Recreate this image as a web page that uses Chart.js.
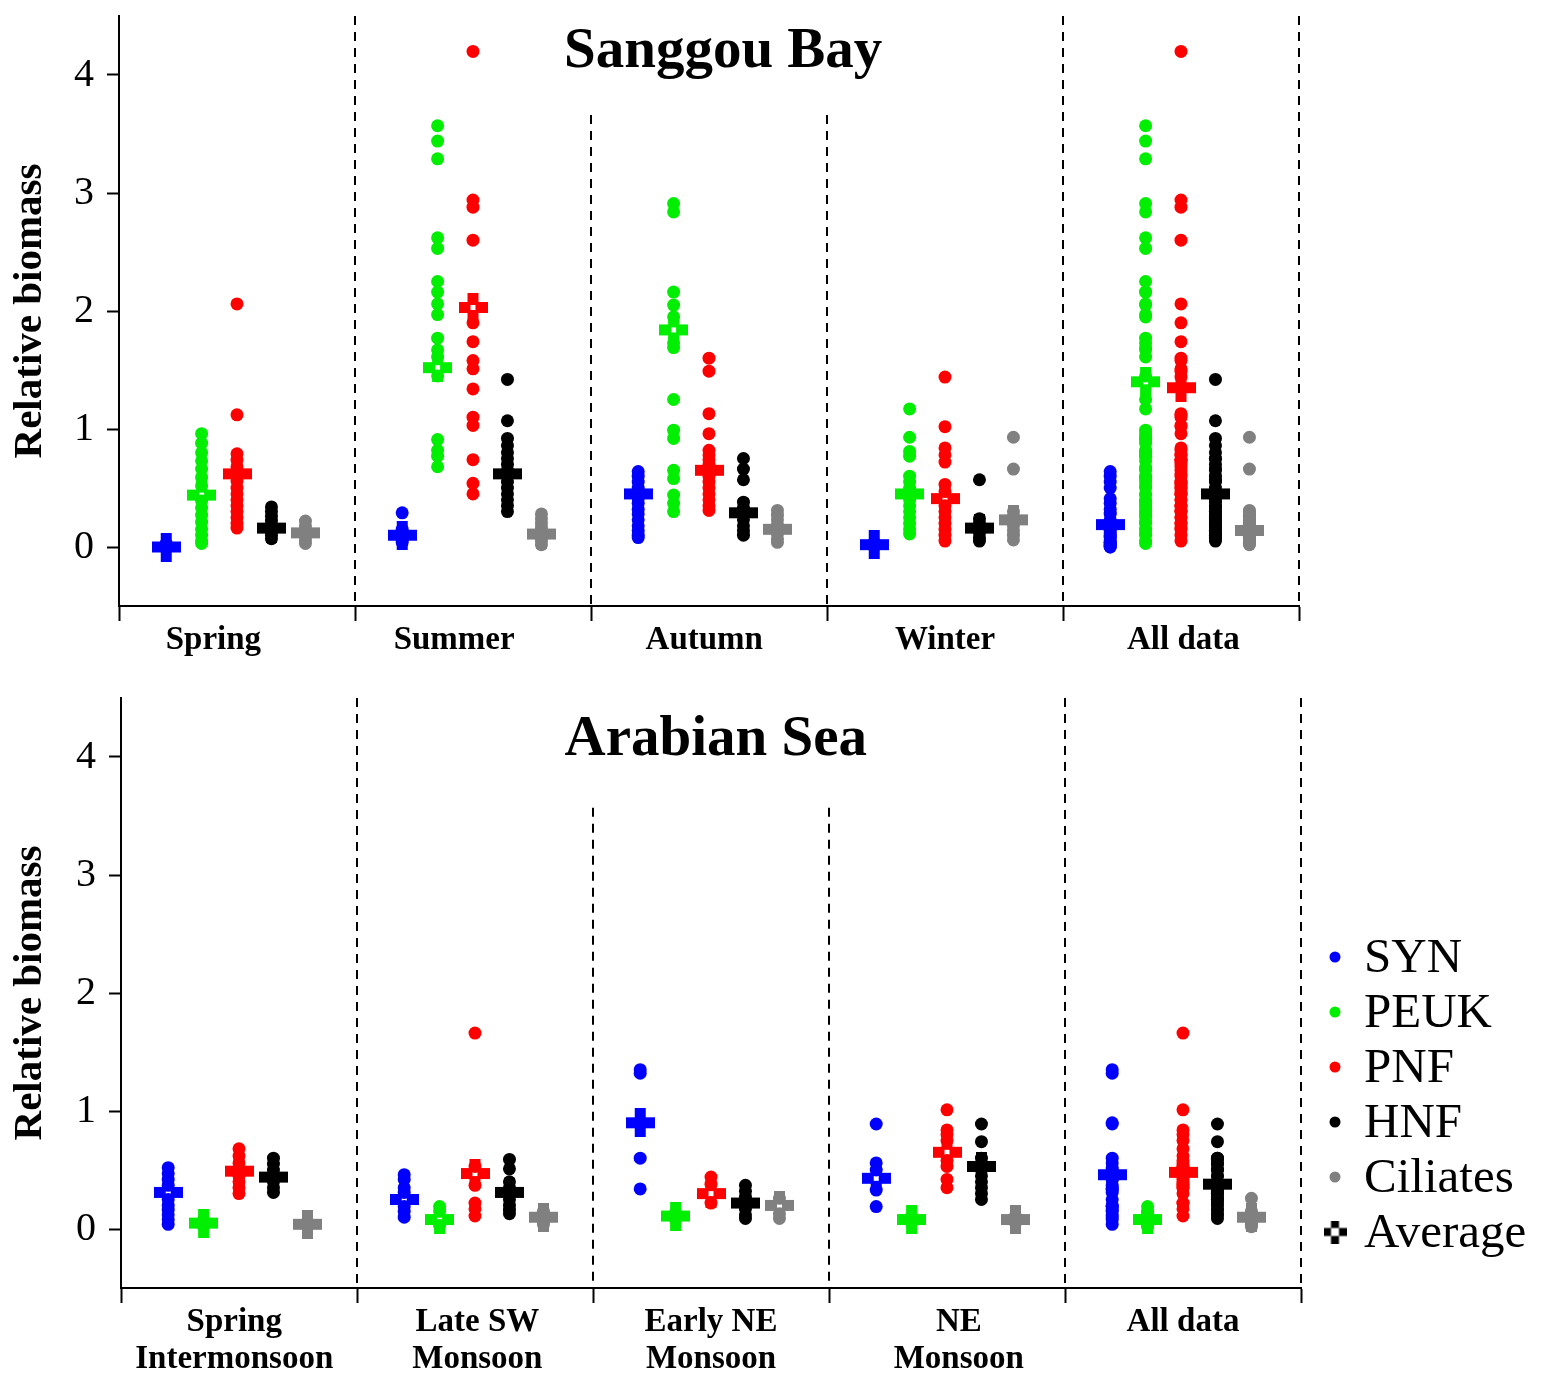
<!DOCTYPE html>
<html>
<head>
<meta charset="utf-8">
<script src="https://cdn.jsdelivr.net/npm/chart.js@4.4.1/dist/chart.umd.min.js"></script>
<style>
  html, body { margin: 0; padding: 0; background: #fff; }
  #wrap { position: relative; width: 1547px; height: 1379px; }
  .panel { position: absolute; left: 0; }
</style>
</head>
<body>
<div id="wrap">
  <div class="panel" style="top:0"><canvas id="sanggou" width="1547" height="670"></canvas></div>
  <div class="panel" style="top:670px"><canvas id="arabian" width="1547" height="709"></canvas></div>
</div>
<script>
// ---- data ----
const seriesNames = ['SYN', 'PEUK', 'PNF', 'HNF', 'Ciliates']
const seriesColors = ['#0000ff', '#00ee00', '#ff0000', '#000000', '#808080']
const yTicks = [0, 1, 2, 3, 4]

// Sanggou Bay, seasons: Spring, Summer, Autumn, Winter ("All data" = all seasons together)
const sgCategories = ['Spring', 'Summer', 'Autumn', 'Winter', 'All data']
const sgSYN = [
  [0, 0.01, 0.02, 0.03],
  [0.29, 0.15, 0.12, 0.09, 0.06, 0.04],
  [0.64, 0.6, 0.55, 0.5, 0.41, 0.37, 0.32, 0.28, 0.23, 0.18, 0.14, 0.1, 0.08],
  [0, 0.02, 0.04]
]
const sgPEUK = [
  [0.96, 0.88, 0.8, 0.73, 0.66, 0.59, 0.52, 0.39, 0.33, 0.27, 0.21, 0.15, 0.1, 0.05, 0.03],
  [3.57, 3.44, 3.29, 2.62, 2.53, 2.25, 2.16, 2.06, 1.97, 1.77, 1.67, 1.61, 1.45, 0.91, 0.82, 0.77, 0.68],
  [2.91, 2.84, 2.16, 2.05, 1.95, 1.73, 1.69, 1.25, 0.99, 0.92, 0.65, 0.58, 0.44, 0.37, 0.3],
  [1.17, 0.93, 0.81, 0.77, 0.6, 0.55, 0.5, 0.45, 0.4, 0.35, 0.3, 0.25, 0.2, 0.15, 0.11]
]
const sgPNF = [
  [2.06, 1.12, 0.79, 0.74, 0.68, 0.62, 0.56, 0.5, 0.45, 0.4, 0.35, 0.3, 0.25, 0.2, 0.16],
  [4.2, 2.94, 2.88, 2.6, 1.9, 1.74, 1.58, 1.51, 1.34, 1.1, 1.03, 0.74, 0.54, 0.45],
  [1.6, 1.49, 1.13, 0.96, 0.82, 0.78, 0.74, 0.7, 0.65, 0.6, 0.55, 0.5, 0.45, 0.4, 0.35, 0.31],
  [1.44, 1.02, 0.84, 0.78, 0.72, 0.53, 0.47, 0.35, 0.3, 0.25, 0.2, 0.15, 0.1, 0.05]
]
const sgHNF = [
  [0.34, 0.3, 0.26, 0.22, 0.18, 0.14, 0.1, 0.07],
  [1.42, 1.07, 0.92, 0.86, 0.8, 0.75, 0.7, 0.65, 0.6, 0.55, 0.5, 0.45, 0.4, 0.35, 0.3],
  [0.75, 0.66, 0.57, 0.38, 0.33, 0.28, 0.23, 0.18, 0.14, 0.1],
  [0.57, 0.24, 0.2, 0.16, 0.12, 0.08, 0.05]
]
const sgCiliates = [
  [0.22, 0.18, 0.15, 0.12, 0.09, 0.06, 0.03],
  [0.28, 0.24, 0.2, 0.16, 0.12, 0.08, 0.05, 0.02],
  [0.31, 0.27, 0.23, 0.19, 0.15, 0.11, 0.07, 0.04],
  [0.93, 0.66, 0.3, 0.26, 0.22, 0.18, 0.14, 0.1, 0.06]
]
// averages per category (incl. All data)
const sgAvgSYN = [0, 0.1, 0.45, 0.02, 0.19]
const sgAvgPEUK = [0.44, 1.52, 1.84, 0.45, 1.4]
const sgAvgPNF = [0.62, 2.03, 0.65, 0.41, 1.35]
const sgAvgHNF = [0.16, 0.62, 0.29, 0.16, 0.45]
const sgAvgCiliates = [0.12, 0.11, 0.15, 0.23, 0.14]

// Arabian Sea
const asCategories = [['Spring', 'Intermonsoon'], ['Late SW', 'Monsoon'], ['Early NE', 'Monsoon'], ['NE', 'Monsoon'], 'All data']
const asSYN = [
  [0.52, 0.47, 0.42, 0.37, 0.25, 0.2, 0.16, 0.12, 0.08, 0.04],
  [0.46, 0.42, 0.35, 0.31, 0.19, 0.15, 0.1],
  [1.35, 1.32, 0.9, 0.6, 0.34],
  [0.89, 0.56, 0.5, 0.33, 0.19]
]
const asPEUK = [
  [0.02, 0.04, 0.06, 0.08],
  [0.19, 0.15, 0.03],
  [0.08, 0.11, 0.14],
  [0.05, 0.08, 0.11]
]
const asPNF = [
  [0.68, 0.62, 0.56, 0.5, 0.45, 0.4, 0.35, 0.3],
  [1.66, 0.53, 0.37, 0.22, 0.17, 0.11],
  [0.44, 0.38, 0.22],
  [1.01, 0.84, 0.8, 0.75, 0.58, 0.53, 0.42, 0.35]
]
const asHNF = [
  [0.6, 0.55, 0.5, 0.45, 0.4, 0.35, 0.31],
  [0.59, 0.51, 0.4, 0.35, 0.3, 0.25, 0.2, 0.16, 0.13],
  [0.37, 0.32, 0.27, 0.22, 0.17, 0.12, 0.09],
  [0.89, 0.74, 0.6, 0.55, 0.5, 0.45, 0.4, 0.35, 0.3, 0.25]
]
const asCiliates = [
  [0.02, 0.04, 0.06],
  [0.04, 0.07, 0.1, 0.13, 0.15],
  [0.26, 0.13, 0.09],
  [0.05, 0.08, 0.11]
]
const asAvgSYN = [0.31, 0.25, 0.9, 0.43, 0.46]
const asAvgPEUK = [0.05, 0.08, 0.11, 0.08, 0.08]
const asAvgPNF = [0.49, 0.47, 0.3, 0.65, 0.48]
const asAvgHNF = [0.44, 0.31, 0.22, 0.53, 0.38]
const asAvgCiliates = [0.04, 0.1, 0.2, 0.08, 0.1]

// ---- drawing ----
const serif = "'Liberation Serif', 'Times New Roman', serif"
const offsets = [-0.3, -0.15, 0, 0.146, 0.29]

function crossIcon(color, size, arm, hole) {
  const c = document.createElement('canvas')
  c.width = size
  c.height = size
  const g = c.getContext('2d')
  const a = (size - arm) / 2
  g.fillStyle = color
  g.fillRect(0, a, size, arm)
  g.fillRect(a, 0, arm, size)
  g.fillStyle = '#fff'
  const h = (size - hole) / 2
  g.fillRect(h, h, hole, hole)
  return c
}

function buildDatasets(groups, avgs) {
  const sets = []
  groups.forEach((seasons, j) => {
    const cols = [...seasons, seasons.flat()]
    const pts = []
    cols.forEach((vals, g) => vals.forEach(v => pts.push({ x: g + 0.5 + offsets[j], y: v })))
    sets.push({
      label: seriesNames[j], data: pts, order: 0,
      backgroundColor: seriesColors[j], borderWidth: 0, pointRadius: 6.5
    })
  })
  avgs.forEach((vals, j) => {
    sets.push({
      label: seriesNames[j] + ' average', order: 1,
      data: vals.map((v, g) => ({ x: g + 0.5 + offsets[j], y: v })),
      pointStyle: crossIcon(seriesColors[j], 29, 11, 5), pointRadius: 14,
      backgroundColor: seriesColors[j], borderWidth: 0
    })
  })
  return sets
}

const decorPlugin = {
  id: 'decor',
  beforeDatasetsDraw(chart, args, opts) {
    const { ctx, chartArea, scales } = chart
    ctx.save()
    ctx.strokeStyle = '#000'
    ctx.lineWidth = 2
    ctx.setLineDash([9, 7])
    opts.dividers.forEach(d => {
      const x = Math.round(scales.x.getPixelForValue(d.at))
      ctx.beginPath()
      ctx.moveTo(x, scales.y.getPixelForValue(d.from))
      ctx.lineTo(x, chartArea.bottom)
      ctx.stroke()
    })
    ctx.restore()
  },
  afterDraw(chart, args, opts) {
    const { ctx, scales } = chart
    ctx.save()
    ctx.fillStyle = '#000'
    ctx.font = 'bold 57px ' + serif
    ctx.textAlign = 'center'
    ctx.textBaseline = 'middle'
    ctx.fillText(opts.title, scales.x.getPixelForValue(opts.titleX), scales.y.getPixelForValue(opts.titleY))
    if (opts.legend) {
      const L = opts.legend
      ctx.font = '49px ' + serif
      ctx.textAlign = 'left'
      seriesNames.forEach((name, i) => {
        const y = L.top + i * L.step
        ctx.fillStyle = seriesColors[i]
        ctx.beginPath()
        ctx.arc(L.x, y, 5.5, 0, Math.PI * 2)
        ctx.fill()
        ctx.fillStyle = '#000'
        ctx.fillText(name, L.textX, y + 2)
      })
      const y = L.top + seriesNames.length * L.step
      ctx.drawImage(crossIcon('#000', 23, 8, 8), L.x - 11.5, y - 11.5)
      ctx.fillStyle = '#000'
      ctx.fillText('Average', L.textX, y + 2)
    }
    ctx.restore()
  }
}

function makeChart(id, categories, labelAt, groups, avgs, layout, decor) {
  const tickValues = [0, 1, 2, 3, 4, 5, ...labelAt].sort((a, b) => a - b)
  const labelFor = v => {
    const i = labelAt.indexOf(v)
    return i >= 0 ? categories[i] : ''
  }
  return new Chart(document.getElementById(id), {
    type: 'scatter',
    data: { datasets: buildDatasets(groups, avgs) },
    plugins: [decorPlugin],
    options: {
      responsive: false,
      animation: false,
      layout: { padding: { top: layout.top, right: layout.right, left: 0, bottom: 0 } },
      plugins: {
        legend: { display: false },
        tooltip: { enabled: false },
        decor: decor
      },
      scales: {
        x: {
          type: 'linear', min: 0, max: 5,
          afterBuildTicks: s => { s.ticks = tickValues.map(v => ({ value: v })) },
          afterFit: s => { s.height = layout.xHeight; s.paddingLeft = 0; s.paddingRight = 0 },
          border: { display: true, color: '#000', width: 2 },
          grid: {
            drawOnChartArea: false, drawTicks: true, tickLength: 15, tickWidth: 2,
            tickColor: c => Number.isInteger(c.tick.value) ? '#000' : 'rgba(0,0,0,0)'
          },
          ticks: {
            autoSkip: false, maxRotation: 0, padding: 1, color: '#000',
            font: { family: serif, size: 33, weight: 'bold', lineHeight: 1.12 },
            callback: labelFor
          }
        },
        y: {
          min: -0.5, max: 4.5,
          afterBuildTicks: s => { s.ticks = yTicks.map(v => ({ value: v })) },
          afterFit: s => { s.width = layout.yWidth; s.paddingTop = 0; s.paddingBottom = 0 },
          border: { display: true, color: '#000', width: 2 },
          grid: { drawOnChartArea: false, drawTicks: true, tickLength: 12, tickWidth: 2, tickColor: '#000' },
          ticks: { color: '#000', padding: 13, font: { family: serif, size: 40 } },
          title: {
            display: true, text: 'Relative biomass', color: '#000',
            font: { family: serif, size: 41, weight: 'bold' }, padding: { top: 6, bottom: 0 }
          }
        }
      }
    }
  })
}

makeChart('sanggou', sgCategories, [0.4, 1.42, 2.48, 3.5, 4.51],
  [sgSYN, sgPEUK, sgPNF, sgHNF, sgCiliates],
  [sgAvgSYN, sgAvgPEUK, sgAvgPNF, sgAvgHNF, sgAvgCiliates],
  { top: 16, right: 248, yWidth: 119, xHeight: 64 },
  {
    title: 'Sanggou Bay', titleX: 2.56, titleY: 4.19,
    dividers: [{ at: 1, from: 4.5 }, { at: 2, from: 3.66 }, { at: 3, from: 3.66 }, { at: 4, from: 4.5 }, { at: 5, from: 4.5 }]
  })

makeChart('arabian', asCategories, [0.48, 1.51, 2.5, 3.55, 4.5],
  [asSYN, asPEUK, asPNF, asHNF, asCiliates],
  [asAvgSYN, asAvgPEUK, asAvgPNF, asAvgHNF, asAvgCiliates],
  { top: 28, right: 246, yWidth: 121, xHeight: 91 },
  {
    title: 'Arabian Sea', titleX: 2.52, titleY: 4.14,
    dividers: [{ at: 1, from: 4.5 }, { at: 2, from: 3.57 }, { at: 3, from: 3.57 }, { at: 4, from: 4.5 }, { at: 5, from: 4.5 }],
    legend: { x: 1335, textX: 1364, top: 287, step: 55 }
  })
</script>
</body>
</html>
